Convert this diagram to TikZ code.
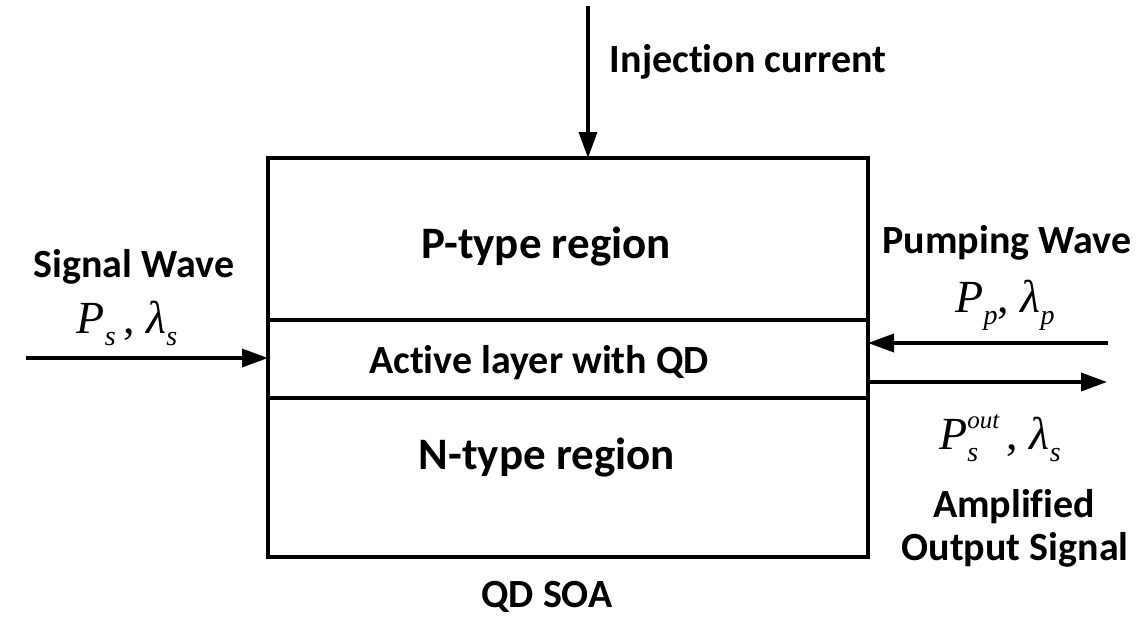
\documentclass[tikz,border=0pt]{standalone}
\usepackage{fontspec}
\setmainfont{Carlito}[Ligatures=NoCommon, RawFeature={-liga;-clig;-calt;-dlig}]
\newfontfamily\symfont{Liberation Serif}
\usetikzlibrary{arrows.meta}
\newcommand\nolig{\kern0pt{}}
\newcommand\qsub[2]{{\itshape #1}\raisebox{-0.28em}{\fontsize{28}{28}\selectfont\itshape #2}}
\newcommand\qsubsup[3]{{\itshape #1}\rlap{\raisebox{-0.28em}{\fontsize{28}{28}\selectfont\itshape #2}}\raisebox{0.45em}{\fontsize{25}{25}\selectfont\itshape #3}}
\begin{document}
\begin{tikzpicture}[x=1pt,y=-1pt,
  region/.style={draw, line width=3.5pt, minimum width=600pt, anchor=north west, inner sep=0pt, outer sep=0pt},
  lbl/.style={font=\fontsize{40}{46}\selectfont\bfseries, inner sep=0pt, anchor=base},
  big/.style={font=\fontsize{45}{50}\selectfont\bfseries, inner sep=0pt, anchor=base},
  sym/.style={font=\symfont\fontsize{46}{50}\selectfont, inner sep=0pt, anchor=base},
  arr/.style={line width=3.5pt, -{Triangle[length=26pt,width=18pt]}}
]
\useasboundingbox (0,0) rectangle (1146,619);
\node[region, minimum height=162pt] (preg) at (268,158) {};
\node[region, minimum height=78pt] (act) at (268,320) {};
\node[region, minimum height=159pt] (nreg) at (268,398) {};
\node[big] (ptxt) at (546,258) {P-type region};
\node[lbl] (atxt) at (539,373) {Act\nolig ive layer with QD};
\node[big] (ntxt) at (547,469) {N-type region};
\node[lbl] (soa) at (547,607) {QD SOA};
\node[lbl] (inj) at (748,72) {Injec\nolig t\nolig ion current};
\node[lbl] (sigw) at (134,277) {Signal Wave};
\node[sym] (sigs) at (127,333) {\qsub{P}{s}\,, \qsub{λ}{s}};
\node[lbl] (pumpw) at (1007,253) {Pumping Wave};
\node[sym] (pumps) at (1005,312) {\qsub{P}{p}, \qsub{λ}{p}};
\node[sym] (outs) at (1000,449) {\qsubsup{P}{s}{out}\,, \qsub{λ}{s}};
\node[lbl] (ampl) at (1014,517) {Ampli\nolig f\nolig ied};
\node[lbl] (outsig) at (1015,560) {Output Signal};
\coordinate (injtop) at (588,6);
\coordinate (sigin) at (26,358);
\coordinate (pumpin) at (1108,343);
\coordinate (outend) at (1107,382);
\draw[arr] (injtop) -- (injtop |- preg.north);
\draw[arr] (sigin) -- (sigin -| act.west);
\draw[arr] (pumpin) -- (pumpin -| act.east);
\draw[arr] (outend -| act.east) -- (outend);
\end{tikzpicture}
\end{document}
